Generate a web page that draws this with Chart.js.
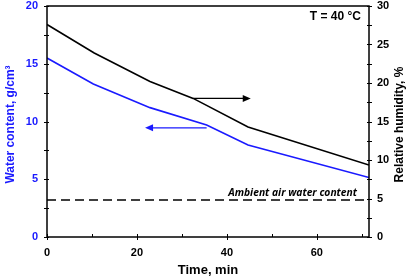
<!DOCTYPE html>
<html>
<head>
<meta charset="utf-8">
<script src="https://cdn.jsdelivr.net/npm/chart.js@4.4.1/dist/chart.umd.min.js"></script>
<style>
  html, body { margin: 0; padding: 0; background: #fff; }
  #wrap { width: 408px; height: 278px; }
</style>
</head>
<body>
<div id="wrap"><canvas id="chart"></canvas></div>
<script>
// values
const waterTime = [0, 10.3, 22.9, 35.5, 44.7, 71.6];
const waterContent = [15.5, 13.25, 11.2, 9.7, 7.97, 5.15];

const rhTime = [0, 10.5, 22.9, 32.5, 44.7, 71.6];
const rhValues = [27.6, 23.9, 20.2, 18.0, 14.3, 9.35];

const ambientTime = [0, 71.6];
const ambientWater = [3.2, 3.2];

const xTicks = [0, 20, 40, 60];
const leftTicks = [0, 5, 10, 15, 20];
const rightTicks = [0, 5, 10, 15, 20, 25, 30];

const BLUE = '#1a1aff';
const FONT = 'Liberation Sans, Arial, sans-serif';

function pts(xs, ys) {
    return xs.map((x, i) => ({ x: x, y: ys[i] }));
}

// frame, crossing tick marks, arrows, axis titles and notes
const decorations = {
    id: 'decorations',
    afterDraw(chart) {
        const ctx = chart.ctx;
        const a = chart.chartArea;
        const x = chart.scales.x, yl = chart.scales.y, yr = chart.scales.y2;
        ctx.save();
        ctx.strokeStyle = '#000';
        ctx.lineWidth = 1.5;
        ctx.strokeRect(a.left, a.top, a.right - a.left, a.bottom - a.top);

        ctx.lineWidth = 1;
        ctx.beginPath();
        for (let v = 0; v <= 70; v += 10) {
            const px = Math.round(x.getPixelForValue(v)) + 0.5;
            const major = v % 20 === 0;
            ctx.moveTo(px, a.bottom - 3);
            ctx.lineTo(px, a.bottom + (major ? 3 : 0));
        }
        for (let v = 0; v <= 20; v += 2.5) {
            const py = Math.round(yl.getPixelForValue(v)) + 0.5;
            ctx.moveTo(a.left - 3, py);
            ctx.lineTo(a.left + 2, py);
        }
        for (let v = 0; v <= 30; v += 2.5) {
            const py = Math.round(yr.getPixelForValue(v)) + 0.5;
            ctx.moveTo(a.right - 2, py);
            ctx.lineTo(a.right + 3, py);
        }
        ctx.stroke();

        function arrow(x0, x1, yv, scale, color) {
            const py = scale.getPixelForValue(yv);
            const p0 = x.getPixelForValue(x0), p1 = x.getPixelForValue(x1);
            const dir = Math.sign(p1 - p0);
            ctx.strokeStyle = color;
            ctx.fillStyle = color;
            ctx.lineWidth = 1.3;
            ctx.beginPath();
            ctx.moveTo(p0, py);
            ctx.lineTo(p1 - dir * 6, py);
            ctx.stroke();
            ctx.beginPath();
            ctx.moveTo(p1, py);
            ctx.lineTo(p1 - dir * 8, py - 3.5);
            ctx.lineTo(p1 - dir * 8, py + 3.5);
            ctx.closePath();
            ctx.fill();
        }
        arrow(32.5, 45.3, 18.0, yr, '#000');
        arrow(35.5, 21.8, 9.45, yl, BLUE);

        ctx.fillStyle = '#000';
        ctx.font = 'bold 12px ' + FONT;
        ctx.textAlign = 'right';
        ctx.textBaseline = 'middle';
        ctx.fillText('T = 40 \u00b0C', a.right - 8, a.top + 11);

        ctx.font = 'italic bold 10.3px "Open Sans", sans-serif';
        ctx.fillText('Ambient air water content', a.right - 12, yl.getPixelForValue(3.2) - 7);

        // rotated axis titles, both reading upwards
        const midY = (a.top + a.bottom) / 2 + 3;
        ctx.textAlign = 'center';
        ctx.font = 'bold 12px ' + FONT;
        ctx.save();
        ctx.translate(11, midY);
        ctx.rotate(-Math.PI / 2);
        ctx.fillStyle = BLUE;
        ctx.fillText('Water content, g/cm\u00b3', 0, 0);
        ctx.restore();
        ctx.save();
        ctx.translate(400, midY);
        ctx.rotate(-Math.PI / 2);
        ctx.fillStyle = '#000';
        ctx.fillText('Relative humidity, %', 0, 0);
        ctx.restore();
        ctx.restore();
    }
};

function fitY(w) {
    return (s) => {
        s.width = w;
        s.paddingTop = 6;
        s.paddingBottom = 0;
    };
}

const config = {
    type: 'line',
    data: {
        datasets: [
            {
                label: 'Water content',
                data: pts(waterTime, waterContent),
                borderColor: BLUE,
                borderWidth: 1.6,
                pointRadius: 0,
                yAxisID: 'y',
            },
            {
                label: 'Relative humidity',
                data: pts(rhTime, rhValues),
                borderColor: '#000',
                borderWidth: 1.6,
                pointRadius: 0,
                yAxisID: 'y2',
            },
            {
                label: 'Ambient air water content',
                data: pts(ambientTime, ambientWater),
                borderColor: '#000',
                borderWidth: 1.5,
                borderDash: [9, 5],
                pointRadius: 0,
                yAxisID: 'y',
            },
        ]
    },
    options: {
        animation: false,
        responsive: true,
        maintainAspectRatio: false,
        layout: { padding: 0 },
        plugins: {
            legend: { display: false },
            tooltip: { enabled: false },
        },
        scales: {
            x: {
                type: 'linear',
                min: 0,
                max: 71.6,
                afterBuildTicks: (s) => { s.ticks = xTicks.map(v => ({ value: v })); },
                afterFit: (s) => { s.height = 41; s.paddingLeft = 0; s.paddingRight = 0; },
                grid: { display: false, tickLength: 0 },
                border: { display: false },
                ticks: {
                    color: '#000',
                    padding: 10,
                    font: { family: FONT, size: 11, weight: 'bold', lineHeight: 1 },
                },
                title: {
                    display: true,
                    text: 'Time, min',
                    color: '#000',
                    padding: { top: 0, bottom: 0 },
                    font: { family: FONT, size: 13, weight: 'bold' },
                },
            },
            y: {
                position: 'left',
                min: 0,
                max: 20,
                afterBuildTicks: (s) => { s.ticks = leftTicks.map(v => ({ value: v })); },
                afterFit: fitY(47),
                grid: { display: false, tickLength: 0 },
                border: { display: false },
                ticks: {
                    color: BLUE,
                    padding: 9,
                    font: { family: FONT, size: 11, weight: 'bold', lineHeight: 1 },
                },
            },
            y2: {
                position: 'right',
                min: 0,
                max: 30,
                afterBuildTicks: (s) => { s.ticks = rightTicks.map(v => ({ value: v })); },
                afterFit: fitY(39),
                grid: { display: false, tickLength: 0 },
                border: { display: false },
                ticks: {
                    color: '#000',
                    padding: 8,
                    font: { family: FONT, size: 11, weight: 'bold', lineHeight: 1 },
                },
            },
        },
    },
    plugins: [decorations],
};

const chart = new Chart(document.getElementById('chart'), config);
</script>
</body>
</html>
